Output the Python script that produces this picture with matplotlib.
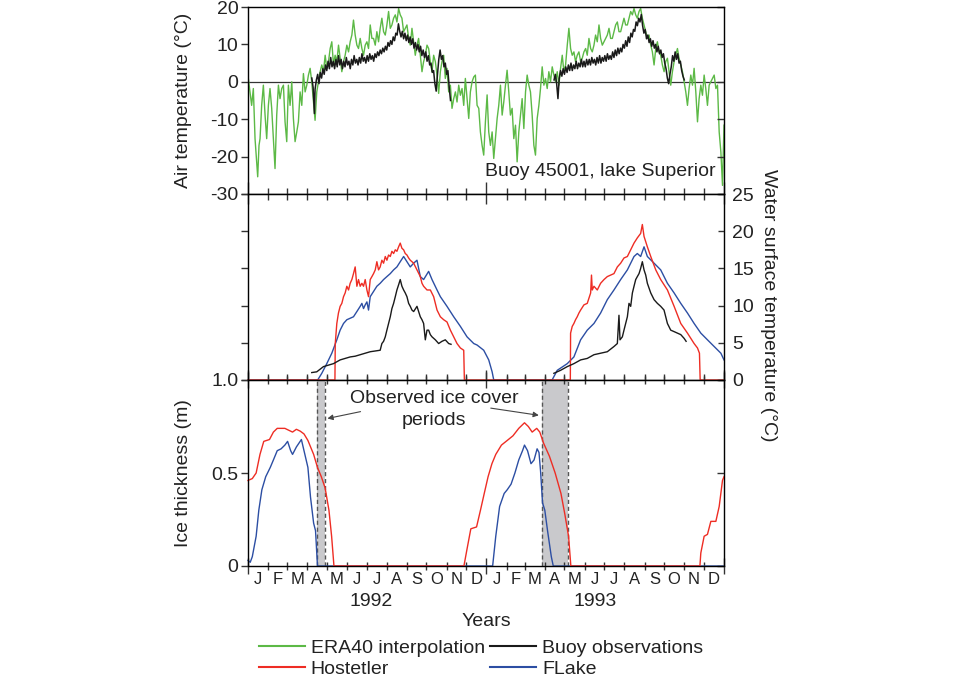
import numpy as np
import matplotlib
matplotlib.use("Agg")
import matplotlib.pyplot as plt
from matplotlib.lines import Line2D
import matplotlib.transforms as mtransforms

plt.rcParams['font.family'] = ['Liberation Sans', 'DejaVu Sans']
plt.rcParams['font.size'] = 14
plt.rcParams['axes.unicode_minus'] = False

# ---------------- data (days since 1992-01-01) ----------------
era_days = [0.5, 3, 5.6, 8.2, 10.8, 13.3, 14.9, 16.9, 18.5, 21, 23.6, 26.2, 28.7, 31.3, 33.8, 36.4, 39, 41.5,
            44.1, 46.7, 49.2, 51.8, 54.4, 56.9, 59.5, 62, 64.6, 67.2, 69.7, 72.3, 74.9, 77.4, 80, 82.6, 85.1,
            87.7, 90.3, 92.8, 95.4, 97.9, 100.5, 103, 105.6, 108.2, 110.8, 113.3, 115.9, 118.5, 121, 123.6,
            126.2, 128.7, 131.3, 133.8, 136.4, 139, 141.5, 144.1, 146.7, 149.2, 151.8, 154.4, 156.9, 159.5,
            162, 164.6, 167.2, 169.7, 172.3, 174.9, 177.4, 180, 182.6, 185.1, 187.7, 190.3, 192.8, 195.4,
            197.9, 200.5, 203, 205.6, 208.2, 210.8, 213.3, 215.9, 218.5, 221, 223.6, 226.2, 228.7, 231.3,
            233.8, 236.4, 239, 241.5, 244.1, 246.7, 249.2, 251.8, 254.4, 256.9, 259.5, 262, 264.6, 267.2,
            269.7, 272.3, 274.9, 277.4, 280, 282.6, 285.1, 287.7, 290.3, 292.8, 295.4, 297.9, 300.5, 303,
            305.6, 308.2, 310.8, 313.3, 315.9, 318.5, 321, 323.6, 326.2, 328.7, 331.3, 333.8, 336.4, 339,
            341.5, 344.1, 346.7, 349.2, 351.8, 354.4, 356.9, 359.5, 362, 364.6, 367.2, 369.7, 372.3, 374.9,
            377.4, 380, 382.6, 385.1, 387.7, 390.3, 392.8, 395.4, 397.9, 400.5, 403, 405.6, 408.2, 410.8,
            413.3, 415.9, 418.5, 421, 423.6, 426.2, 428.7, 431.3, 433.8, 436.4, 439, 441.5, 444.1, 446.7,
            449.2, 451.8, 454.4, 456.9, 459.5, 462, 464.6, 467.2, 469.7, 472.3, 474.9, 477.4, 480, 482.6,
            485.1, 487.7, 490.3, 492.8, 495.4, 497.9, 500.5, 503, 505.6, 508.2, 510.8, 513.3, 515.9, 518.5,
            521, 523.6, 526.2, 528.7, 531.3, 533.8, 536.4, 539, 541.5, 544.1, 546.7, 549.2, 551.8, 554.4,
            556.9, 559.5, 562, 564.6, 567.2, 569.7, 572.3, 574.9, 577.4, 580, 582.6, 585.1, 587.7, 590.3,
            592.8, 595.4, 597.9, 600.5, 603, 605.6, 608.2, 610.8, 613.3, 615.9, 618.5, 621, 623.6, 626.2,
            628.7, 631.3, 633.8, 636.4, 639, 641.5, 644.1, 646.7, 649.2, 651.8, 654.4, 656.9, 659.5, 662,
            664.6, 667.2, 669.7, 672.3, 674.9, 677.4, 680, 682.6, 685.1, 687.7, 690.3, 692.8, 695.4, 697.9,
            700.5, 703, 705.6, 708.2, 710.8, 713.3, 715.9, 718.5, 721, 723.6, 726.2, 728.7, 731]
era_temp = [0.9, -2.7, -6.3, -1.8, -15.2, -21.4, -25.4, -17, -15.2, -6.3, -0.9, -8.9, -15.2, -6.3, -1.8, -7.1,
            -15.2, -23.2, -8.9, -0.9, -4.5, -1.8, -0.9, -10.7, -16, -0.9, -6.3, 0, -9.8, -16, -13.4, -10.7,
            -2.7, -6.3, 2.2, -2.7, -0.9, 1.8, 3.6, 0, -5.4, -10.3, -2.7, 0, 2.7, 4.5, 2.7, 7.1, 3.6, 5.4,
            8.9, 10.7, 4.5, 7.1, 5.4, 9.8, 6.3, 2.7, 5.4, 7.1, 9.8, 8, 10.7, 12.5, 16.5, 12.5, 9.8, 8.9,
            11.6, 8.9, 7.1, 9.8, 10.7, 8.9, 15.2, 11.6, 11.6, 9.8, 13.4, 10.7, 14.3, 17, 13.4, 12.5, 15.2,
            18.8, 14.3, 15.2, 17, 17.9, 16, 19.6, 17.9, 17, 13.4, 14.3, 15.2, 11.6, 9.8, 14.3, 10.7, 7.1,
            9.8, 11.6, 7.1, 2.7, 5.4, 7.1, 9.8, 8.9, 5.4, 2.7, 7.1, 5.4, 1.8, -3.1, 2.7, 5.4, 7.1, 0.9, 3.6,
            -2.7, -0.9, -7.1, -4.5, -2.7, -5.4, -0.9, -3.6, -1.8, -6.3, 0.9, -4.5, -9.8, -2.7, 0, 1.3, 1.8,
            -6.3, -7.1, -13.4, -17, -19.6, -10.7, -3.5, -13.4, -17, -13.4, -20.5, -15.2, -9.8, -6.3, -0.9,
            -8.9, -5.4, -0.9, 3.1, -2.7, -8.9, -7.1, -15.2, -11.6, -21.4, -13.4, -8.9, -4.5, -12.5, -2.7,
            1.8, -0.9, -2.7, -8.9, -17, -19.6, -9.8, -6.3, -1.8, 4, -0.9, 0.9, -1.8, 2.7, 0, 4, 1.8, 0, 2.7,
            -0.9, 3.6, 7.1, 2.7, 4.5, 9.8, 14.3, 8.9, 7.1, 8, 5.4, 7.1, 8, 5.4, 6.3, 8, 8.9, 7.1, 11.6, 8.9,
            8, 9.8, 12.5, 10.7, 15.2, 11.6, 9.8, 10.7, 11.6, 12.5, 14.3, 11.6, 11.6, 13.4, 15.2, 16, 13.4,
            13.4, 15.2, 17, 15.2, 15.2, 17, 18.8, 17.9, 19.6, 17.9, 17, 18.8, 19.6, 17, 15.2, 13.4, 11.6,
            12.5, 9.8, 8, 4.5, 8.9, 10.7, 8, 7.1, 4.5, 2.7, 5.4, 6.3, 2.7, -0.9, 2.7, 5.4, 7.1, 8.9, 6.3,
            4.5, 2.7, 0, -2.7, -6.3, -1.8, 1.8, -0.9, 3.6, -2.7, -10.7, -4.5, -0.9, -3.6, 1.8, -1.8, -6.3,
            -0.9, 0, 0.9, 1.8, -1.8, -0.9, -13.4, -18.8, -27.7, -11.6]

buoy_air_days = [98, 100, 102, 103, 105, 107, 109, 111, 113, 115, 117, 119, 121, 123, 125, 127, 129, 131, 133,
                 135, 137, 139, 141, 143, 145, 147, 149, 151, 153, 155, 157, 159, 161, 163, 165, 167, 169, 171,
                 173, 175, 177, 179, 181, 183, 185, 187, 189, 191, 193, 195, 197, 199, 201, 203, 205, 207, 209,
                 211, 213, 215, 217, 219, 221, 223, 225, 227, 229, 231, 233, 235, 237, 239, 241, 243, 245, 247,
                 249, 251, 253, 255, 257, 259, 261, 263, 265, 267, 269, 271, 273, 275, 277, 279, 281, 283, 285,
                 287, 289, 291, 293, 295, 297, 299, 301, 303, 305, 307, 309, 311, np.nan,
                 470, 472, 474, 476, 478, 480, 482, 484, 486, 488, 490, 492, 494, 496, 498, 500, 502, 504, 506,
                 508, 510, 512, 514, 516, 518, 520, 522, 524, 526, 528, 530, 532, 534, 536, 538, 540, 542, 544,
                 546, 548, 550, 552, 554, 556, 558, 560, 562, 564, 566, 568, 570, 572, 574, 576, 578, 580, 582,
                 584, 586, 588, 590, 592, 594, 596, 598, 600, 602, 604, 606, 608, 610, 612, 614, 616, 618, 620,
                 622, 624, 626, 628, 630, 632, 634, 636, 638, 640, 642, 644, 646, 648, 650, 652, 654, 656, 658,
                 660, 662, 664, 666, 668, 670]
buoy_air_temp = [1.0, -1.5, -8.5, -2, 0.5, 2, -0.5, 2.5, 1, 3.5, 2, 4.5, 3, 5.5, 3.5, 6.5, 4, 5.5, 3.5, 6, 4, 7,
                 4.5, 6, 3.5, 5.5, 4, 6.5, 4.5, 5.5, 3.5, 6, 4.5, 7, 5, 6, 4.5, 6.5, 5, 7.5, 5.5, 6.5, 5, 7, 5.5,
                 7.5, 6, 7, 5.5, 7.5, 6.5, 8, 7, 8.5, 7.5, 9, 8, 9.5, 8.5, 10.5, 9.5, 11, 10, 12, 11, 13, 12.5,
                 15.5, 13.5, 12, 13.5, 11.5, 13, 11, 12.5, 10.5, 12, 10, 11.5, 9, 10.5, 8.5, 10, 8, 9.5, 7, 8.5,
                 6.5, 8, 5.5, 7, 4.5, 5, 2.5, 3, -0.5, -2.5, 2, 6, 8.5, 6, 7, 4, 5, 2, 3, -1.5, -5, np.nan,
                 0.5, 2, -0.5, -4.5, 1, 3, 1.5, 3.5, 2, 4, 2.5, 4.5, 3, 5, 3, 4.5, 3.5, 5.5, 3.5, 5, 4, 6, 4,
                 5.5, 4, 6, 4.5, 6, 4.5, 6.5, 5, 6, 4.5, 6.5, 5, 7, 5, 6.5, 5.5, 7, 5.5, 7.5, 6, 7, 6, 8, 6.5,
                 8.5, 7, 9, 7.5, 9, 8, 10, 9, 11, 9.5, 12, 10.5, 13, 12, 14, 13.5, 16, 15, 17, 16, 18, 15, 13, 14,
                 11.5, 12.5, 10.5, 11.5, 9.5, 11, 9, 10, 8, 9.5, 7.5, 8.5, 6.5, 7.5, 5, 3.5, 1, -0.5, 2, 4, 7,
                 5.5, 8, 6, 7.5, 5, 5.5, 3, 1.5, 0.5]

# water surface temperature
host_w_days = [0, 133.5, 134, 136.4, 138.9, 141.5, 144.1, 146.7, 149.2, 151.8, 154.4, 156.9, 159.5, 162, 164.6,
               167.2, 169.7, 172.3, 174.9, 177.4, 180, 182.6, 185.1, 187.7, 190.3, 192.8, 195.4, 197.9, 200.5,
               203, 205.6, 208.2, 210.8, 213.3, 215.9, 218.5, 221, 223.6, 226.2, 228.7, 231.3, 233.8, 236.4,
               239, 241.5, 244.1, 246.7, 249.2, 254.4, 259.5, 264.6, 267.2, 269.7, 274.9, 280, 285.1, 290.3,
               295.4, 300.5, 305.6, 310.8, 315.9, 321, 326.2, 331.3, 332.3, 495, 495.4, 497.9, 500.5, 503,
               505.6, 508.2, 510.8, 515.9, 521, 526.2, 527.5, 528.7, 531.3, 536.4, 541.5, 546.7, 551.8, 556.9,
               562, 567.2, 572.3, 577.4, 582.6, 587.7, 592.8, 597.9, 603, 605.6, 608.2, 613.3, 618.5, 626.2,
               633.8, 644.1, 654.4, 664.6, 674.9, 685.1, 690.3, 693.3, 694.4, 731]
host_w_temp = [0, 0, 4.9, 7.6, 9.0, 9.9, 10.3, 11.2, 11.7, 12.6, 12.1, 13, 13.5, 14.3, 15.2, 12.6, 13.5, 12.6, 13,
               12.6, 13.5, 12.1, 11.2, 13.5, 13.9, 14.3, 14.8, 15.9, 14.8, 15.2, 16.1, 15.7, 16.6, 16.1, 16.8,
               16.6, 17.3, 17, 17.5, 17.3, 17.9, 18.4, 17.7, 17.5, 17, 16.8, 16.4, 16.1, 15.7, 14.8, 13.9, 13,
               12.6, 12.1, 12.1, 11.2, 9.4, 8.5, 8.1, 7.8, 6.7, 5.8, 4.9, 4.3, 4.0, 0, 0, 6.3, 7.2, 7.6, 8.1,
               8.5, 9.0, 9.4, 10.1, 10.3, 11.7, 14.1, 12.1, 12.6, 12.1, 13, 13.5, 13.9, 14.1, 14.3, 15.2, 15.7,
               16.4, 16.6, 17.5, 18.4, 19.1, 19.7, 20.9, 19.3, 17.9, 16.6, 14.8, 13.5, 12.1, 9.9, 7.6, 6.3, 4.9,
               4.3, 3.6, 0, 0]

flake_w_days = [0, 107, 113.3, 121, 128.7, 136.4, 141.5, 146.7, 151.8, 156.9, 162, 167.2, 172.3, 174.9, 177.4,
                180, 182.6, 185.1, 187.7, 192.8, 197.9, 203, 208.2, 213.3, 218.5, 223.6, 228.7, 233.8, 239,
                244.1, 249.2, 254.4, 259.5, 264.6, 269.7, 277.4, 282.6, 290.3, 295.4, 305.6, 315.9, 326.2,
                336.4, 346.7, 351.8, 362, 369.7, 374.9, 377.4, 467, 474.9, 490.3, 500.5, 510.8, 521, 531.3,
                541.5, 551.8, 562, 572.3, 582.6, 592.8, 597.9, 603, 608.2, 613.3, 623.6, 633.8, 644.1, 654.4,
                664.6, 674.9, 685.1, 695.4, 705.6, 715.9, 726.2, 731]
flake_w_temp = [0, 0, 0.9, 2.2, 3.6, 5.4, 6.7, 7.6, 8.1, 8.3, 8.5, 9.2, 9.9, 10.3, 9.6, 10.1, 10.5, 9.4, 11.2,
                11.9, 12.6, 13, 13.5, 13.9, 14.3, 14.8, 15.2, 15.9, 16.6, 15.9, 15.2, 15.7, 16.1, 13.9, 13.5,
                14.6, 13.5, 12.1, 11.2, 9.9, 8.5, 7.2, 5.8, 4.9, 4.7, 4.0, 2.7, 1.1, 0, 0, 1.3, 2.2, 3.1, 5.4,
                6.7, 7.6, 9.0, 10.8, 12.1, 13.5, 14.8, 16.6, 17, 16.6, 17.9, 16.6, 15.7, 14.8, 13, 11.7, 10.3,
                9.0, 7.6, 6.3, 5.4, 4.5, 3.6, 2.7]

buoy_w_days = [97.9, 105.6, 115.9, 123.6, 131.3, 141.5, 149.2, 156.9, 164.6, 172.3, 180, 187.7, 195.4, 203,
               205.6, 208.2, 210.8, 213.3, 215.9, 218.5, 221, 223.6, 226.2, 228.7, 231.3, 233.8, 236.4, 239,
               241.5, 244.1, 246.7, 249.2, 251.8, 254.4, 259.5, 264.6, 267.2, 269.7, 272.3, 274.9, 277.4, 280,
               282.6, 287.7, 292.8, 297.9, 303, 308.2, 311.8, np.nan,
               469.7, 480, 490.3, 500.5, 510.8, 521, 531.3, 541.5, 551.8, 562, 567.2, 569.7, 571.3, 574.9,
               577.4, 580, 582.6, 585.1, 587.7, 590.3, 592.8, 595.4, 597.9, 600.5, 603, 605.6, 608.2, 610.8,
               613.3, 618.5, 623.6, 628.7, 633.8, 638.9, 644.1, 649.2, 654.4, 659.5, 664.6, 669.7, 672.8]
buoy_w_temp = [1.0, 1.1, 1.8, 2.0, 2.2, 2.7, 2.9, 3.1, 3.2, 3.4, 3.6, 3.8, 3.9, 4.0, 4.9, 5.2, 5.8, 6.7, 7.6,
               8.5, 9.6, 10.3, 11.2, 12.1, 12.8, 13.5, 12.6, 12.1, 11.7, 11.2, 10.3, 9.9, 9.4, 9.2, 9.9, 8.5,
               8.1, 7.6, 5.4, 6.7, 6.7, 6.1, 5.8, 5.4, 4.9, 5.2, 5.4, 4.9, 4.8, np.nan,
               0.9, 1.3, 1.8, 2.2, 2.7, 2.9, 3.4, 3.6, 3.8, 4.5, 4.9, 8.7, 5.4, 5.8, 6.7, 7.6, 8.5, 10.3, 9.9,
               11.7, 12.6, 13.5, 13.9, 14.3, 15.0, 15.9, 14.8, 14.1, 13, 11.7, 10.8, 10.3, 9.9, 9.4, 7.6, 6.7,
               6.5, 6.3, 6.1, 5.6, 5.2]

# ice thickness (m)
host_ice_days = [0, 6.6, 12.5, 18.4, 24.2, 33, 39, 44.9, 56.6, 62.5, 68.4, 74.3, 80.2, 86, 92, 100.8, 106.7,
                 112.6, 118.4, 124.3, 128.4, 132, 331.6, 336.3, 342.2, 351, 357, 362.8, 368.7, 374.6, 380.5,
                 389.2, 398.1, 406.9, 415.8, 424.6, 430.5, 436.4, 443.4, 448.1, 454, 462.9, 471.7, 480.6, 486.5,
                 492.3, 495.8, 694, 695.4, 700.5, 705.6, 710.8, 718.5, 723.6, 728.7, 731]
host_ice = [0.46, 0.47, 0.5, 0.6, 0.67, 0.68, 0.72, 0.74, 0.74, 0.73, 0.72, 0.735, 0.725, 0.71, 0.675, 0.6,
            0.53, 0.48, 0.42, 0.3, 0.16, 0, 0, 0.09, 0.2, 0.21, 0.3, 0.39, 0.48, 0.55, 0.6, 0.65, 0.675, 0.70,
            0.74, 0.77, 0.75, 0.72, 0.74, 0.72, 0.66, 0.59, 0.5, 0.39, 0.28, 0.16, 0, 0, 0.07, 0.16, 0.17,
            0.24, 0.24, 0.32, 0.46, 0.48]
flake_ice_days = [0, 3.4, 6.6, 12.5, 16.6, 21.3, 27.2, 34.2, 39, 44.9, 50.8, 56.6, 60.8, 65.5, 68.4, 74.3, 82,
                  86, 92, 96, 100.8, 103.7, 106.7, 375.7, 380.5, 386.4, 393.4, 398.1, 404, 409.9, 415.8, 421.6,
                  424.6, 429.3, 434.6, 439.3, 444, 446.9, 449.3, 452.3, 455.8, 460, 465.8, 468.8, 731]
flake_ice = [0.03, 0.02, 0.05, 0.16, 0.3, 0.41, 0.48, 0.53, 0.57, 0.62, 0.63, 0.65, 0.67, 0.62, 0.6, 0.64,
             0.68, 0.62, 0.53, 0.37, 0.23, 0.19, 0, 0, 0.16, 0.32, 0.39, 0.41, 0.44, 0.5, 0.57, 0.62, 0.65,
             0.62, 0.55, 0.57, 0.63, 0.61, 0.51, 0.34, 0.3, 0.19, 0.05, 0, 0]

obs_ice_periods = [(105.5, 117.8), (450.8, 490.8)]

month_letters = ['J', 'F', 'M', 'A', 'M', 'J', 'J', 'A', 'S', 'O', 'N', 'D'] * 2
year_labels = ['1992', '1993']
year_label_days = [189, 533]

# ---------------- styling ----------------
C_GREEN = '#5cb946'
C_BLACK = '#1a1a1a'
C_RED = '#ee2d24'
C_BLUE = '#2c4ea3'
C_AX = '#333333'
C_TXT = '#222222'

month_starts = np.arange(np.datetime64('1992-01'), np.datetime64('1994-02'), np.timedelta64(1, 'M'))
month_days = (month_starts.astype('datetime64[D]') - np.datetime64('1992-01-01')).astype(int)
month_mid = (month_days[:-1] + month_days[1:]) / 2.0
year_days = [0, int(month_days[12]), int(month_days[24])]
XMAX = month_days[-1]

fig = plt.figure(figsize=(9.6, 6.8), dpi=100)
fig.patch.set_facecolor('white')
L, W = 248 / 960, 476 / 960
ax1 = fig.add_axes([L, 1 - 194 / 680, W, 187 / 680])
ax2 = fig.add_axes([L, 1 - 380 / 680, W, 186 / 680])
ax3 = fig.add_axes([L, 1 - 566 / 680, W, 186 / 680])

for ax in (ax1, ax2, ax3):
    ax.set_xlim(0, XMAX)
    ax.set_xticks(year_days)
    ax.set_xticks(month_days, minor=True)
    ax.xaxis.set_major_formatter(plt.NullFormatter())
    for s in ax.spines.values():
        s.set_color(C_AX)
        s.set_linewidth(1.0)

# ---- top panel: air temperature
ax1.set_ylim(-30, 20)
ax1.axhline(0, color=C_AX, lw=0.9, zorder=1)
ax1.plot(era_days, era_temp, color=C_GREEN, lw=1.0, zorder=2)
ax1.plot(buoy_air_days, buoy_air_temp, color=C_BLACK, lw=1.1, zorder=3)
ax1.set_yticks([-30, -20, -10, 0, 10, 20])
ax1.tick_params(axis='y', direction='out', length=5, width=1, color=C_AX, pad=2, labelsize=14,
                labelcolor=C_TXT)
ax1.tick_params(axis='x', which='major', direction='in', length=9, width=1, color=C_AX, top=False, bottom=True)
ax1.tick_params(axis='x', which='minor', direction='in', length=4, width=1, color=C_AX, top=False, bottom=True)
ax1.set_ylabel('Air temperature (°C)', fontsize=14, color=C_TXT)
ax1.yaxis.set_label_coords(-0.118, 0.5)
ax1.text(0.982, 0.12, 'Buoy 45001, lake Superior', transform=ax1.transAxes, ha='right', va='center',
         fontsize=14, color=C_TXT)
ax1r = ax1.twinx()
ax1r.set_ylim(-30, 20)
ax1r.set_yticks([-30, -20, -10, 0, 10, 20])
ax1r.tick_params(axis='y', direction='in', length=5, width=1, color=C_AX, labelright=False)

# ---- middle panel: water surface temperature
ax2.set_ylim(0, 25)
ax2.plot(flake_w_days, flake_w_temp, color=C_BLUE, lw=1.0, zorder=2, clip_on=False)
ax2.plot(host_w_days, host_w_temp, color=C_RED, lw=1.0, zorder=3, clip_on=False)
ax2.plot(buoy_w_days, buoy_w_temp, color=C_BLACK, lw=1.0, zorder=4)
ax2.set_yticks([0, 5, 10, 15, 20, 25])
ax2.tick_params(axis='y', direction='out', length=5, width=1, color=C_AX, labelleft=False)
ax2.tick_params(axis='x', which='major', direction='in', length=7, width=1, color=C_AX, top=True, bottom=True)
ax2.tick_params(axis='x', which='minor', direction='in', length=4, width=1, color=C_AX, top=True, bottom=True)
ax2r = ax2.twinx()
ax2r.set_ylim(0, 25)
ax2r.set_yticks([0, 5, 10, 15, 20, 25])
ax2r.tick_params(axis='y', direction='in', length=4, width=1, color=C_AX, labelright=True, pad=6, labelsize=14,
                 labelcolor=C_TXT)

# ---- bottom panel: ice thickness
ax3.set_ylim(0, 1.0)
for (a, b) in obs_ice_periods:
    ax3.axvspan(a, b, color='#c9c9cc', zorder=0, lw=0)
    for xv in (a, b):
        ax3.axvline(xv, color='#555555', lw=1.0, ls=(0, (3, 2)), zorder=1)
ax3.plot(flake_ice_days, flake_ice, color=C_BLUE, lw=1.0, zorder=2, clip_on=False)
ax3.plot(host_ice_days, host_ice, color=C_RED, lw=1.0, zorder=3, clip_on=False)
ax3.set_yticks([0, 0.5, 1.0])
ax3.set_yticklabels(['0', '0.5', '1.0'])
ax3.tick_params(axis='y', direction='out', length=5, width=1, color=C_AX, pad=2, labelsize=14,
                labelcolor=C_TXT)
ax3.tick_params(axis='x', which='major', direction='inout', length=12, width=1, color=C_AX, top=True, bottom=True)
ax3.tick_params(axis='x', which='minor', direction='inout', length=6, width=1, color=C_AX, top=True, bottom=True)
ax3.set_ylabel('Ice thickness (m)', fontsize=14, color=C_TXT)
ax3.yaxis.set_label_coords(-0.118, 0.5)
ax3r = ax3.twinx()
ax3r.set_ylim(0, 1.0)
ax3r.set_yticks([0, 0.5, 1.0])
ax3r.tick_params(axis='y', direction='in', length=5, width=1, color=C_AX, labelright=False)

# annotation
ax3.text(286, 0.84, 'Observed ice cover\nperiods', ha='center', va='center', fontsize=14,
         color=C_TXT, linespacing=1.4)
ax3.annotate('', xy=(obs_ice_periods[0][1], 0.79), xytext=(177, 0.833),
             arrowprops=dict(arrowstyle='-|>', color='#444444', lw=0.8, mutation_scale=8))
ax3.annotate('', xy=(obs_ice_periods[1][0], 0.808), xytext=(368.6, 0.851),
             arrowprops=dict(arrowstyle='-|>', color='#444444', lw=0.8, mutation_scale=8))

# month and year labels
tr = mtransforms.blended_transform_factory(ax3.transData, fig.transFigure)
for m, lab in zip(month_mid, month_letters):
    fig.text(m, 1 - 580 / 680, lab, transform=tr, fontsize=12, ha='center', va='center', color=C_TXT)
for d, lab in zip(year_label_days, year_labels):
    fig.text(d, 1 - 602 / 680, lab, transform=tr, fontsize=14, ha='center', va='center', color=C_TXT)
fig.text(486 / 960, 1 - 621 / 680, 'Years', ha='center', va='center', fontsize=14, color=C_TXT)

fig.text(768 / 960, 1 - 305 / 680, 'Water surface temperature (°C)', rotation=270, ha='center', va='center',
         fontsize=14, color=C_TXT)

# legend
handles = [Line2D([], [], color=C_GREEN, lw=1.5), Line2D([], [], color=C_RED, lw=1.5),
           Line2D([], [], color=C_BLACK, lw=1.5), Line2D([], [], color=C_BLUE, lw=1.5)]
labels = ['ERA40 interpolation', 'Hostetler', 'Buoy observations', 'FLake']
leg = fig.legend(handles, labels, ncol=2, loc='upper left', bbox_to_anchor=(259 / 960, 1 - 639 / 680),
                 frameon=False, borderpad=0, borderaxespad=0, handlelength=2.35, handletextpad=0.3,
                 columnspacing=0.3, labelspacing=0.2, fontsize=14)
for t in leg.get_texts():
    t.set_color(C_TXT)

fig.savefig('out.png', dpi=100, facecolor='white')
